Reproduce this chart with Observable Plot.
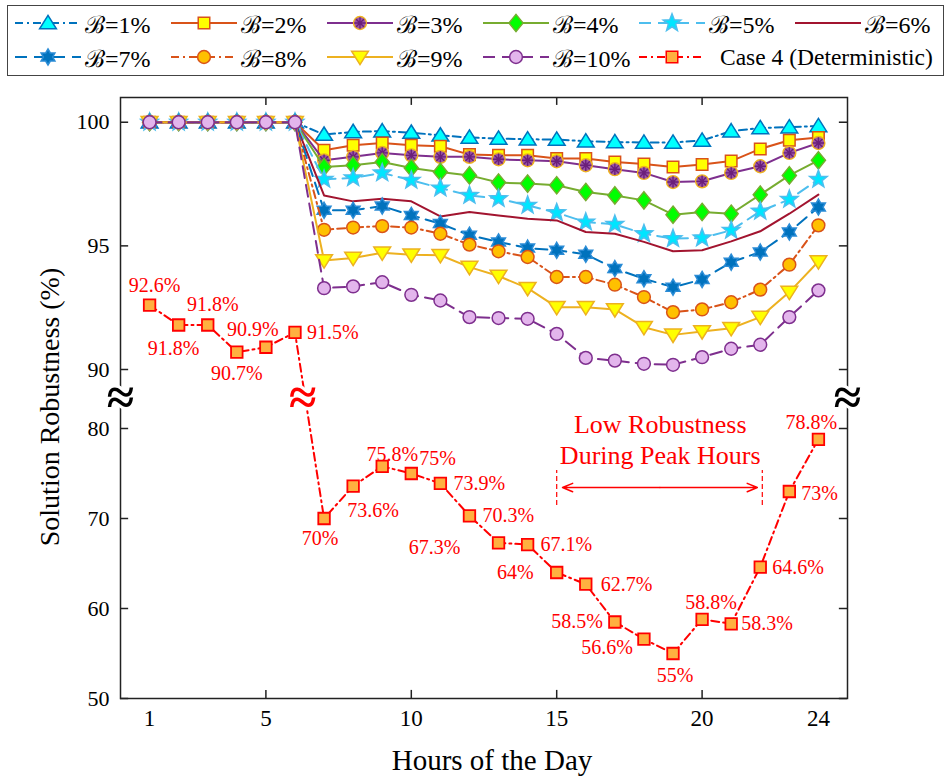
<!DOCTYPE html>
<html><head><meta charset="utf-8">
<script src="https://cdn.jsdelivr.net/npm/d3@7"></script>
<script src="https://cdn.jsdelivr.net/npm/@observablehq/plot@0.6"></script>
<style>
body{margin:0;background:#fff;font-family:"Liberation Serif","Times New Roman",serif;}
#legend{position:relative;width:948px;height:80px;}
#legend .box{position:absolute;left:7px;top:5px;width:937px;height:71px;border:1px solid #444;box-sizing:border-box;}
.item{position:absolute;height:30px;display:flex;align-items:center;}
.item span{font-size:24px;margin-left:3px;white-space:nowrap;color:#000;}
.item span.small{font-size:23.5px;margin-left:14px;}
#chart svg{display:block;}
</style></head><body>
<div id="legend"><div class="box"></div></div>
<div id="chart"></div>
<script>
// ---------------- data ----------------
const hours = [1,2,3,4,5,6,7,8,9,10,11,12,13,14,15,16,17,18,19,20,21,22,23,24];
const seriesNames = ["ℬ=1%","ℬ=2%","ℬ=3%","ℬ=4%","ℬ=5%","ℬ=6%","ℬ=7%","ℬ=8%","ℬ=9%","ℬ=10%"];
const detName = "Case 4 (Deterministic)";
const b1  = [100,100,100,100,100,100, 99.50,99.61,99.64,99.58,99.47,99.38,99.34,99.31,99.30,99.23,99.20,99.18,99.18,99.26,99.64,99.77,99.80,99.85];
const b2  = [100,100,100,100,100,100, 98.87,99.07,99.16,99.07,99.03,98.69,98.66,98.66,98.53,98.53,98.39,98.31,98.19,98.29,98.43,98.92,99.27,99.38];
const b3  = [100,100,100,100,100,100, 98.46,98.60,98.76,98.66,98.60,98.60,98.50,98.46,98.42,98.26,98.10,97.95,97.58,97.61,97.95,98.22,98.76,99.16];
const b4  = [100,100,100,100,100,100, 98.19,98.26,98.39,98.15,97.99,97.85,97.56,97.52,97.45,97.18,97.04,96.84,96.26,96.37,96.30,97.07,97.85,98.46];
const b5  = [100,100,100,100,100,100, 97.69,97.75,97.95,97.65,97.34,97.04,96.91,96.64,96.34,95.96,95.87,95.49,95.29,95.32,95.63,96.40,96.88,97.69];
const b6  = [100,100,100,100,100,100, 97.04,96.80,96.91,96.80,96.19,96.37,96.23,96.10,96.03,95.56,95.49,95.16,94.78,94.82,95.18,95.59,96.30,97.07];
const b7  = [100,100,100,100,100,100, 96.44,96.44,96.61,96.23,95.90,95.43,95.16,94.91,94.82,94.66,94.08,93.67,93.33,93.64,94.34,94.75,95.56,96.57];
const b8  = [100,100,100,100,100,100, 95.65,95.74,95.80,95.74,95.49,95.05,94.78,94.55,93.74,93.74,93.43,92.93,92.32,92.43,92.72,93.23,94.24,95.83];
const b9  = [100,100,100,100,100,100, 94.41,94.51,94.72,94.64,94.62,94.14,93.78,93.29,92.52,92.52,92.43,91.71,91.40,91.54,91.67,92.12,93.13,94.37];
const b10 = [100,100,100,100,100,100, 93.29,93.36,93.53,93.02,92.79,92.12,92.08,92.05,91.44,90.47,90.36,90.23,90.19,90.50,90.84,91.00,92.12,93.20];
const caseDet = [92.6,91.8,91.8,90.7,90.9,91.5,70,73.6,75.8,75,73.9,70.3,67.3,67.1,64,62.7,58.5,56.6,55,58.8,58.3,64.6,73,78.8];
const detLabels = ["92.6%","91.8%","91.8%","90.7%","90.9%","91.5%","70%","73.6%","75.8%","75%","73.9%","70.3%","67.3%","67.1%","64%","62.7%","58.5%","56.6%","55%","58.8%","58.3%","64.6%","73%","78.8%"];
const yTicks = [50,60,70,80,90,95,100];
const xTickLabels = [1,5,10,15,20,24];
const xTickMarks = [5,10,15,20];
const annotationLines = ["Low Robustness","During Peak Hours"];
const axisTitles = ["Hours of the Day","Solution Robustness (%)"];

// ---------------- layout / style (not data) ----------------
const yDomain = [50, 80, 90, 101];
const yRange  = [618, 348, 289, 17];
const labelDx = [5,-5,5,0,-13,12,-4,20,10,8,13,13,-38,13,-23,15,-12,-11,2,9,10,12,12,-7];
const labelDy = [-20,24,-20,21,-18,0,20,24,-12,-15,0,0,5,0,0,0,0,8,22,-17,0,0,2,-17];
const labelAnchor = ["middle","middle","middle","middle","middle","start","middle","middle","middle","start","start","start","end","start","end","start","end","end","middle","middle","start","start","start","middle"];
const breakX = [0, 6.27, 25];
const breakV = [85.25, 85.25, 85.25];
const annotX = [18.56, 18.56];
const annotV = [80.68, 77.0];
const peakBounds = [15, 22.07];
const peakV = [71.44, 75.33];
const arrowMid = 18.55, arrowEnds = [15.2, 21.9], arrowV = 73.44;

function sym(fn){ return {draw(c,size){ fn(c, Math.sqrt(size/Math.PI)); }}; }
function star(c, R, ri, n){
  for (let k=0;k<2*n;k++){
    const a = -Math.PI/2 + k*Math.PI/n, rr = k%2 ? ri : R;
    const x = rr*Math.cos(a), y = rr*Math.sin(a);
    k ? c.lineTo(x,y) : c.moveTo(x,y);
  }
  c.closePath();
}
const symbols = {
  triUp: sym((c,r)=>{c.moveTo(0,-r*0.95); c.lineTo(r*1.05,r*0.72); c.lineTo(-r*1.05,r*0.72); c.closePath();}),
  triDown: sym((c,r)=>{c.moveTo(0,r*0.95); c.lineTo(r*1.05,-r*0.72); c.lineTo(-r*1.05,-r*0.72); c.closePath();}),
  square: sym((c,r)=>{const s=r*0.72; c.rect(-s,-s,2*s,2*s);}),
  diamond: sym((c,r)=>{c.moveTo(0,-r*1.08); c.lineTo(r*0.88,0); c.lineTo(0,r*1.08); c.lineTo(-r*0.88,0); c.closePath();}),
  star5: sym((c,r)=>star(c, r*1.15, r*1.15*0.42, 5)),
  hexagram: sym((c,r)=>star(c, r*1.0, r*0.58, 6)),
  circle: sym((c,r)=>{const R=r*0.8; c.moveTo(R,0); c.arc(0,0,R,0,2*Math.PI);}),
  asterisk: sym((c,r)=>{const R=r*0.72; for (let k=0;k<4;k++){const a=k*Math.PI/4; c.moveTo(R*Math.cos(a),R*Math.sin(a)); c.lineTo(-R*Math.cos(a),-R*Math.sin(a));}})
};
const styles = [
  {stroke:"#0072BD", dash:"8,4,2,4", marker:"triUp", fill:"#00FFFF", mstroke:"#0072BD"},
  {stroke:"#D95319", dash:null, marker:"square", fill:"#FFFF00", mstroke:"#D95319"},
  {stroke:"#7E2F8E", dash:null, marker:"circle", fill:"#9A55AA", mstroke:"#EDB120", extra:"asterisk"},
  {stroke:"#77AC30", dash:null, marker:"diamond", fill:"#00FF00", mstroke:"#77AC30"},
  {stroke:"#4DBEEE", dash:"12,7", marker:"star5", fill:"#00E5FF", mstroke:"#4DBEEE"},
  {stroke:"#A2142F", dash:null, marker:null},
  {stroke:"#0072BD", dash:"12,7", marker:"hexagram", fill:"#0072BD", mstroke:"#2B8CD6"},
  {stroke:"#D95319", dash:"8,4,2,4", marker:"circle", fill:"#FFC000", mstroke:"#D95319"},
  {stroke:"#EDB120", dash:null, marker:"triDown", fill:"#FFFF00", mstroke:"#EDB120"},
  {stroke:"#7E2F8E", dash:"12,7", marker:"circle", fill:"#E3B5EC", mstroke:"#7E2F8E"}
];
const detStyle = {stroke:"#FF0000", dash:"8,4,2,4", marker:"square", fill:"#FFB040", mstroke:"#FF0000"};
const RED = "#FF0000";

// ---------------- legend ----------------
const allSeries = [b1,b2,b3,b4,b5,b6,b7,b8,b9,b10];
const legendItems = seriesNames.map((n,i)=>({name:n, ...styles[i]})).concat([{name:detName, ...detStyle, small:true}]);
const legend = d3.select("#legend");
legendItems.forEach((it,i)=>{
  const col = i % 6, row = Math.floor(i/6);
  const div = legend.append("div").attr("class","item")
    .style("left",(14+156*col)+"px").style("top",(8+34*row)+"px");
  const svg = div.append("svg").attr("width",68).attr("height",30);
  svg.append("line").attr("x1",1).attr("x2",67).attr("y1",15).attr("y2",15)
    .attr("stroke",it.stroke).attr("stroke-width",2).attr("stroke-dasharray",it.dash);
  if (it.marker){
    svg.append("path").attr("d", d3.symbol(symbols[it.marker], Math.PI*64)())
      .attr("transform","translate(34,15)").attr("fill",it.fill).attr("stroke",it.mstroke).attr("stroke-width",1.5);
  }
  if (it.extra){
    svg.append("path").attr("d", d3.symbol(symbols[it.extra], Math.PI*64)())
      .attr("transform","translate(34,15)").attr("fill","none").attr("stroke","#6A1F7A").attr("stroke-width",1.4);
  }
  div.append("span").attr("class", it.small ? "small" : null).text(it.name);
});

// ---------------- chart ----------------
const toRows = arr => arr.map((v,i)=>({h:hours[i], v}));
const marks = [];
const upTop = yDomain[3];
marks.push(Plot.frame({stroke:"#222", strokeWidth:1.5}));
marks.push(Plot.ruleY(yTicks, {x1:0, x2:0.28, stroke:"#222", strokeWidth:1.5}));
marks.push(Plot.ruleY(yTicks, {x1:24.72, x2:25, stroke:"#222", strokeWidth:1.5}));
marks.push(Plot.ruleX(xTickMarks, {y1:50, y2:50.9, stroke:"#222", strokeWidth:1.5}));
marks.push(Plot.ruleX(xTickMarks, {y1:upTop-0.32, y2:upTop, stroke:"#222", strokeWidth:1.5}));
marks.push(Plot.axisY({ticks:yTicks, tickSize:0, tickPadding:11, fontSize:22, label:null, tickFormat:d=>String(d)}));
marks.push(Plot.axisX({ticks:xTickLabels, tickSize:0, tickPadding:11, fontSize:23, label:null, tickFormat:d=>String(d)}));
marks.push(Plot.text([axisTitles[0]], {frameAnchor:"bottom", dx:8, dy:62, lineAnchor:"middle", textAnchor:"middle", fontSize:29, text:d=>d, fill:"#000"}));
marks.push(Plot.text([axisTitles[1]], {frameAnchor:"left", dx:-70, dy:9, lineAnchor:"middle", textAnchor:"middle", rotate:-90, fontSize:28, text:d=>d, fill:"#000"}));

allSeries.forEach((arr,i)=>{
  const s = styles[i], rows = toRows(arr);
  marks.push(Plot.line(rows, {x:"h", y:"v", stroke:s.stroke, strokeWidth:2, strokeDasharray:s.dash || undefined}));
  if (s.marker) marks.push(Plot.dot(rows, {x:"h", y:"v", r:8, symbol:symbols[s.marker], fill:s.fill, stroke:s.mstroke, strokeWidth:1.5}));
  if (s.extra) marks.push(Plot.dot(rows, {x:"h", y:"v", r:8, symbol:symbols[s.extra], fill:"none", stroke:"#6A1F7A", strokeWidth:1.4}));
});
const detRows = toRows(caseDet);
marks.push(Plot.line(detRows, {x:"h", y:"v", stroke:detStyle.stroke, strokeWidth:2, strokeDasharray:detStyle.dash}));
marks.push(Plot.dot(detRows, {x:"h", y:"v", r:8, symbol:symbols.square, fill:detStyle.fill, stroke:detStyle.mstroke, strokeWidth:1.8}));
detLabels.forEach((t,i)=>{
  marks.push(Plot.text([i], {x:j=>hours[j], y:j=>caseDet[j], text:j=>detLabels[j], dx:labelDx[i], dy:labelDy[i], textAnchor:labelAnchor[i], fill:RED, fontSize:20}));
});
// axis breaks
marks.push(Plot.text([0,2], {x:j=>breakX[j], y:j=>breakV[j], text:()=>"≈", fontSize:50, fontWeight:"bold", fill:"#000", stroke:"white", strokeWidth:6, paintOrder:"stroke"}));
marks.push(Plot.text([1], {x:j=>breakX[j], y:j=>breakV[j], text:()=>"≈", fontSize:50, fontWeight:"bold", fill:RED, stroke:"white", strokeWidth:6, paintOrder:"stroke"}));
// annotation
marks.push(Plot.text([0,1], {x:j=>annotX[j], y:j=>annotV[j], text:j=>annotationLines[j], fontSize:26, fill:RED}));
marks.push(Plot.ruleX(peakBounds, {y1:peakV[0], y2:peakV[1], stroke:RED, strokeWidth:1.2, strokeDasharray:"5,3"}));
marks.push(Plot.arrow(arrowEnds, {x1:()=>arrowMid, x2:d=>d, y1:()=>arrowV, y2:()=>arrowV, stroke:RED, strokeWidth:1.5, headLength:11, headAngle:45}));

const chart = Plot.plot({
  width:948, height:700,
  marginLeft:120, marginRight:101, marginTop:17, marginBottom:82,
  x:{domain:[0,25], axis:null},
  y:{type:"linear", domain:yDomain, range:yRange, axis:null},
  style:{fontFamily:"'Liberation Serif','Times New Roman',serif", background:"white", overflow:"visible", color:"#000"},
  marks
});
document.getElementById("chart").appendChild(chart);
</script>
</body></html>
